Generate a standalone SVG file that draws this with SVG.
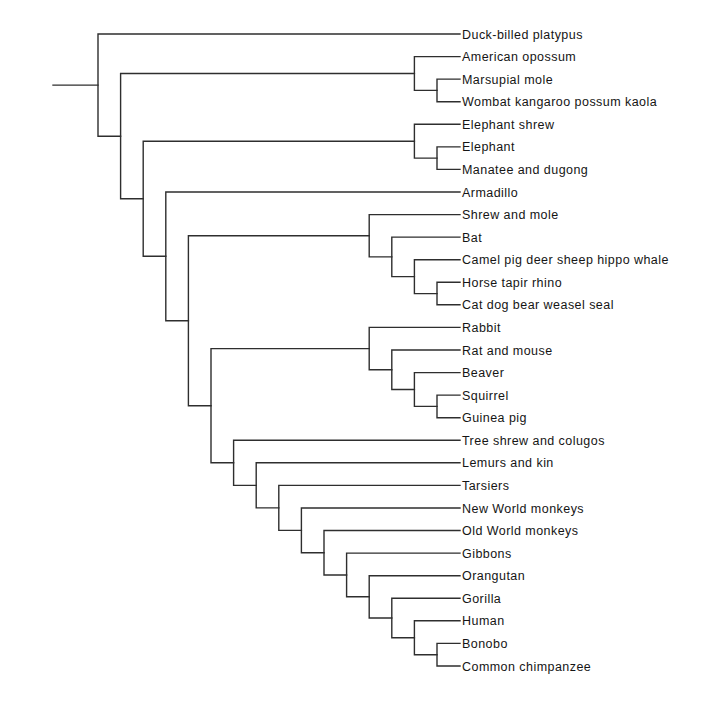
<svg xmlns="http://www.w3.org/2000/svg" width="720" height="717" viewBox="0 0 720 717">
<style>
.bg{fill:#ffffff}
.br{fill:none;stroke:#2e2e2e;stroke-width:1.4;stroke-linejoin:miter;stroke-linecap:square}
.lb{font-family:"Liberation Sans",Arial,sans-serif;font-size:12.5px;letter-spacing:0.45px;fill:#151515}
</style>
<rect class="bg" x="0" y="0" width="720" height="717"/>
<g id="connectors">
<path class="br" d="M53 85.1 H98"/>
<path class="br" d="M460 34 H98 V136.2 H120.6"/>
<path class="br" d="M414.4 73.5 H120.6 V198.8 H143.2"/>
<path class="br" d="M460 56.6 H414.4 V90.4 H437"/>
<path class="br" d="M460 79.1 H437 V101.7 H460"/>
<path class="br" d="M414.4 141.2 H143.2 V256.3 H165.8"/>
<path class="br" d="M460 124.3 H414.4 V158.1 H437"/>
<path class="br" d="M460 146.9 H437 V169.4 H460"/>
<path class="br" d="M460 192 H165.8 V320.7 H188.4"/>
<path class="br" d="M369.2 235.7 H188.4 V405.7 H211"/>
<path class="br" d="M460 214.6 H369.2 V256.9 H391.8"/>
<path class="br" d="M460 237.1 H391.8 V276.6 H414.4"/>
<path class="br" d="M460 259.7 H414.4 V293.6 H437"/>
<path class="br" d="M460 282.3 H437 V304.8 H460"/>
<path class="br" d="M369.2 348.6 H211 V462.8 H233.6"/>
<path class="br" d="M460 327.4 H369.2 V369.7 H391.8"/>
<path class="br" d="M460 350 H391.8 V389.5 H414.4"/>
<path class="br" d="M460 372.6 H414.4 V406.4 H437"/>
<path class="br" d="M460 395.1 H437 V417.7 H460"/>
<path class="br" d="M460 440.3 H233.6 V485.4 H256.2"/>
<path class="br" d="M460 462.8 H256.2 V507.9 H278.8"/>
<path class="br" d="M460 485.4 H278.8 V530.4 H301.4"/>
<path class="br" d="M460 508 H301.4 V552.8 H324"/>
<path class="br" d="M460 530.5 H324 V575 H346.6"/>
<path class="br" d="M460 553.1 H346.6 V596.8 H369.2"/>
<path class="br" d="M460 575.7 H369.2 V618 H391.8"/>
<path class="br" d="M460 598.3 H391.8 V637.7 H414.4"/>
<path class="br" d="M460 620.8 H414.4 V654.7 H437"/>
<path class="br" d="M460 643.4 H437 V666 H460"/>
</g>
<g id="leaf-platypus"><text class="lb" x="462" y="38.5">Duck-billed platypus</text></g>
<g id="leaf-opossum"><text class="lb" x="462" y="61.1">American opossum</text></g>
<g id="leaf-marsupial-mole"><text class="lb" x="462" y="83.6">Marsupial mole</text></g>
<g id="leaf-wombat"><text class="lb" x="462" y="106.2">Wombat kangaroo possum kaola</text></g>
<g id="leaf-elephant-shrew"><text class="lb" x="462" y="128.8">Elephant shrew</text></g>
<g id="leaf-elephant"><text class="lb" x="462" y="151.4">Elephant</text></g>
<g id="leaf-manatee"><text class="lb" x="462" y="173.9">Manatee and dugong</text></g>
<g id="leaf-armadillo"><text class="lb" x="462" y="196.5">Armadillo</text></g>
<g id="leaf-shrew"><text class="lb" x="462" y="219.1">Shrew and mole</text></g>
<g id="leaf-bat"><text class="lb" x="462" y="241.6">Bat</text></g>
<g id="leaf-camel"><text class="lb" x="462" y="264.2">Camel pig deer sheep hippo whale</text></g>
<g id="leaf-horse"><text class="lb" x="462" y="286.8">Horse tapir rhino</text></g>
<g id="leaf-cat"><text class="lb" x="462" y="309.3">Cat dog bear weasel seal</text></g>
<g id="leaf-rabbit"><text class="lb" x="462" y="331.9">Rabbit</text></g>
<g id="leaf-rat"><text class="lb" x="462" y="354.5">Rat and mouse</text></g>
<g id="leaf-beaver"><text class="lb" x="462" y="377.1">Beaver</text></g>
<g id="leaf-squirrel"><text class="lb" x="462" y="399.6">Squirrel</text></g>
<g id="leaf-guinea-pig"><text class="lb" x="462" y="422.2">Guinea pig</text></g>
<g id="leaf-tree-shrew"><text class="lb" x="462" y="444.8">Tree shrew and colugos</text></g>
<g id="leaf-lemurs"><text class="lb" x="462" y="467.3">Lemurs and kin</text></g>
<g id="leaf-tarsiers"><text class="lb" x="462" y="489.9">Tarsiers</text></g>
<g id="leaf-nw-monkeys"><text class="lb" x="462" y="512.5">New World monkeys</text></g>
<g id="leaf-ow-monkeys"><text class="lb" x="462" y="535">Old World monkeys</text></g>
<g id="leaf-gibbons"><text class="lb" x="462" y="557.6">Gibbons</text></g>
<g id="leaf-orangutan"><text class="lb" x="462" y="580.2">Orangutan</text></g>
<g id="leaf-gorilla"><text class="lb" x="462" y="602.8">Gorilla</text></g>
<g id="leaf-human"><text class="lb" x="462" y="625.3">Human</text></g>
<g id="leaf-bonobo"><text class="lb" x="462" y="647.9">Bonobo</text></g>
<g id="leaf-chimpanzee"><text class="lb" x="462" y="670.5">Common chimpanzee</text></g>
</svg>
